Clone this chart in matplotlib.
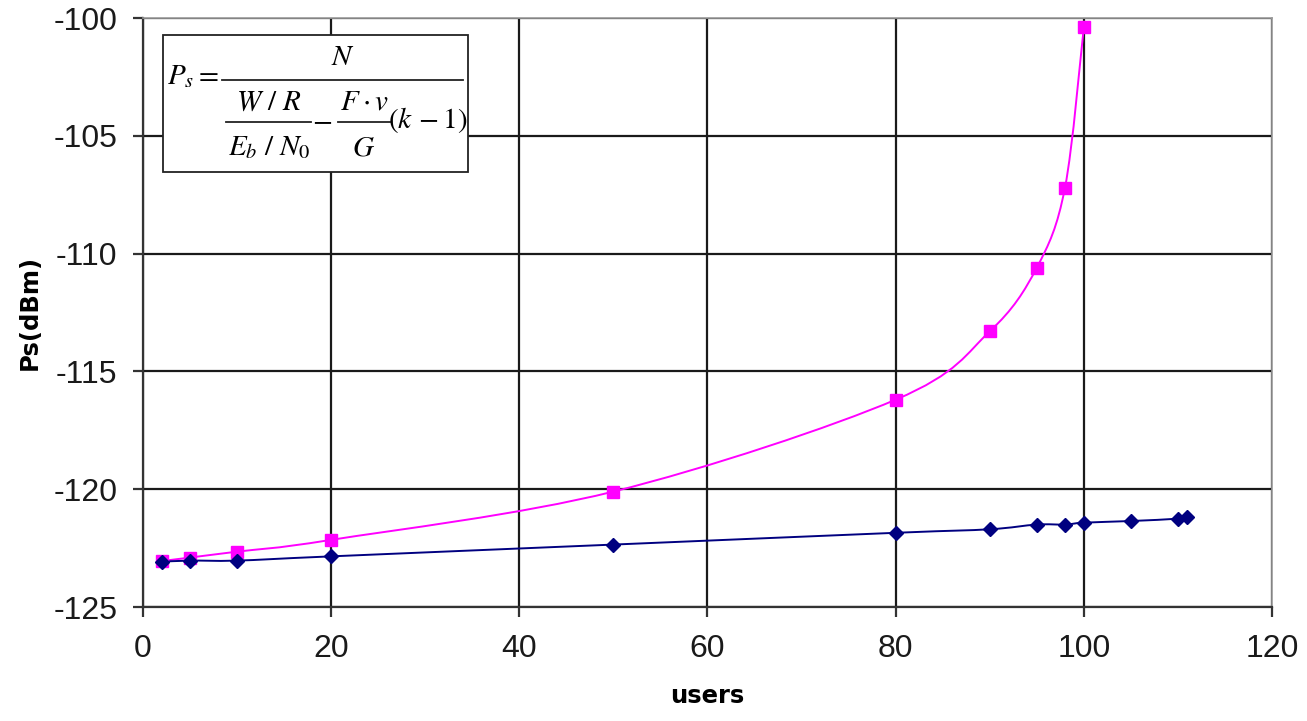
import matplotlib
matplotlib.use('Agg')
import matplotlib.pyplot as plt
from matplotlib.path import Path
from matplotlib.patches import PathPatch, Rectangle
from matplotlib.lines import Line2D

# Data
users_a = [2, 5, 10, 20, 50, 80, 90, 95, 98, 100]
ps_a = [-123.05, -122.9, -122.65, -122.15, -120.1, -116.2, -113.3, -110.6, -107.2, -100.4]

users_b = [2, 5, 10, 20, 50, 80, 90, 95, 98, 100, 105, 110, 111]
ps_b = [-123.08, -123.03, -123.03, -122.85, -122.35, -121.85, -121.7, -121.5,
        -121.5, -121.42, -121.35, -121.25, -121.17]

x_ticks = [0, 20, 40, 60, 80, 100, 120]
y_ticks = [-125, -120, -115, -110, -105, -100]

W, H = 1307, 721


def smooth_path(xs, ys):
    # Excel-style smoothed line: Catmull-Rom segments as cubic Beziers
    pts = list(zip(xs, ys))
    verts = [pts[0]]
    codes = [Path.MOVETO]
    n = len(pts)
    for i in range(n - 1):
        p0 = pts[i - 1] if i > 0 else pts[i]
        p1 = pts[i]
        p2 = pts[i + 1]
        p3 = pts[i + 2] if i + 2 < n else pts[i + 1]
        c1 = (p1[0] + (p2[0] - p0[0]) / 6, p1[1] + (p2[1] - p0[1]) / 6)
        c2 = (p2[0] - (p3[0] - p1[0]) / 6, p2[1] - (p3[1] - p1[1]) / 6)
        verts += [c1, c2, p2]
        codes += [Path.CURVE4] * 3
    return Path(verts, codes)


plt.rcParams['font.family'] = ['Liberation Sans', 'DejaVu Sans']
plt.rcParams['mathtext.fontset'] = 'stix'
plt.rcParams['axes.unicode_minus'] = False

fig = plt.figure(figsize=(13.07, 7.21), dpi=100)
ax = fig.add_axes([0.1094, 0.1581, 0.8638, 0.8169])

ax.set_xlim(0, 120)
ax.set_ylim(-125, -100)
ax.set_xticks(x_ticks)
ax.set_yticks(y_ticks)
ax.grid(True, color='#1a1a1a', linewidth=1.6)
ax.set_axisbelow(True)

for s in ['top', 'right']:
    ax.spines[s].set_color('#9a9a9a')
    ax.spines[s].set_linewidth(1.2)
for s in ['left', 'bottom']:
    ax.spines[s].set_color('#333333')
    ax.spines[s].set_linewidth(1.6)

ax.tick_params(direction='out', length=7.5, width=1.6, color='#333333',
               labelsize=23, labelcolor='#1a1a1a')
ax.tick_params(axis='x', pad=12)
ax.tick_params(axis='y', pad=11)

ax.add_patch(PathPatch(smooth_path(users_a, ps_a), fill=False,
                       edgecolor='#ff00ff', linewidth=1.4, zorder=3))
ax.add_patch(PathPatch(smooth_path(users_b, ps_b), fill=False,
                       edgecolor='#000080', linewidth=1.4, zorder=3))
ax.plot(users_a, ps_a, linestyle='none', marker='s', markersize=8,
        color='#ff00ff', zorder=4)
ax.plot(users_b, ps_b, linestyle='none', marker='D', markersize=7,
        color='#000080', zorder=5)

ax.set_xlabel('users', family='DejaVu Sans', fontweight='bold', fontsize=17.5, labelpad=14)
ax.set_ylabel('Ps(dBm)', family='DejaVu Sans', fontweight='bold', fontsize=17.5, labelpad=8)

# formula box, laid out in pixel positions
ax.add_patch(Rectangle((0.0177, 0.739), 0.2702, 0.232, transform=ax.transAxes,
                       facecolor='white', edgecolor='#222222', linewidth=1.3, zorder=6))


def ftext(px, py, s, ha='center'):
    fig.text(px / W, 1 - py / H, s, ha=ha, va='center', fontsize=21, zorder=7)


def fbar(x0, x1, py):
    fig.add_artist(Line2D([x0 / W, x1 / W], [1 - py / H, 1 - py / H],
                          color='#222222', linewidth=1.3, zorder=7))


ftext(167, 76, r'$P_s=$', ha='left')
ftext(343, 57, r'$N$')
fbar(222, 463, 80)
ftext(269, 102, r'$W\ /\ R$')
fbar(226, 311, 122)
ftext(269, 147, r'$E_b\ /\ N_0$')
ftext(322, 120, r'$-$')
ftext(364, 102, r'$F\cdot v$')
fbar(338, 390, 122)
ftext(364, 147, r'$G$')
ftext(428, 120, r'$\left(k\,-1\right)$')

fig.savefig('out.png', dpi=100)
